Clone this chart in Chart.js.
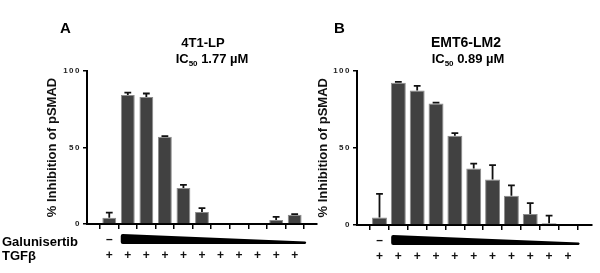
<!DOCTYPE html>
<html><head><meta charset="utf-8">
<script src="https://cdn.jsdelivr.net/npm/chart.js@4.4.0/dist/chart.umd.min.js"></script>
<style>
html,body{margin:0;padding:0;background:#fff;}
#wrap{position:relative;width:600px;height:273px;overflow:hidden;background:#fff;}
canvas{position:absolute;top:0;}
#ca{left:0;}
#cb{left:310px;}
</style></head><body>
<div id="wrap">
<canvas id="ca" width="320" height="273"></canvas>
<canvas id="cb" width="290" height="273"></canvas>
</div>
<script>
// ---- data ----
const categories = ['Vehicle','C1','C2','C3','C4','C5','C6','C7','C8','C9','C10'];
const galunisertibRow = ['–','','','','','','','','','',''];
const tgfbRow = ['+','+','+','+','+','+','+','+','+','+','+'];
const yTicks = [0, 50, 100];

const inhibition4T1 = [4.1, 84.3, 83.0, 57.0, 23.5, 7.8, 0, 0, 0, 2.6, 6.0];
const error4T1      = [3.3, 1.6, 2.3, 0.4, 2.1, 2.6, 0, 0, 0, 2.0, 0.5];

const inhibitionEMT6 = [4.8, 92.0, 87.0, 78.6, 57.7, 36.6, 29.5, 19.0, 7.2, 1.2, 0];
const errorEMT6      = [15.3, 0.7, 3.0, 0.6, 1.8, 3.1, 9.3, 6.7, 6.9, 4.9, 0];

const panelA = {letter:'A', title:'4T1-LP', ic50:'1.77'};
const panelB = {letter:'B', title:'EMT6-LM2', ic50:'0.89'};

const FONT = '"Liberation Sans", Arial, sans-serif';

const errorBars = {
  id:'errorBars',
  afterDatasetsDraw(chart){
    const ctx = chart.ctx, ys = chart.scales.y;
    chart.data.datasets.forEach((ds, di) => {
      const meta = chart.getDatasetMeta(di);
      meta.data.forEach((bar, i) => {
        const e = ds.errors[i]; if (!e) return;
        const v = ds.data[i].y;
        const yTop = ys.getPixelForValue(v + e);
        ctx.save();
        ctx.strokeStyle = '#111'; ctx.lineWidth = 1.8;
        ctx.beginPath();
        ctx.moveTo(bar.x, bar.y); ctx.lineTo(bar.x, yTop);
        ctx.moveTo(bar.x - 3.4, yTop); ctx.lineTo(bar.x + 3.4, yTop);
        ctx.stroke();
        ctx.restore();
      });
    });
  }
};

const spacedTicks = {
  id:'spacedTicks',
  afterLayout(chart){
    const s = chart.scales.y;
    if (s._spaced) return;
    const orig = s.drawLabels;
    s.drawLabels = function(ca){ const c = this.ctx; c.save(); c.letterSpacing = '1.5px'; orig.call(this, ca); c.restore(); };
    s._spaced = true;
  }
};

function drawIC(ctx, cx, baseline, val){
  const big = 'bold 13px ' + FONT, small = 'bold 8px ' + FONT;
  ctx.font = big; const w1 = ctx.measureText('IC').width;
  ctx.font = small; const w2 = ctx.measureText('50').width;
  ctx.font = big; const w3 = ctx.measureText(' ' + val + ' µM').width;
  let x = cx - (w1 + w2 + w3) / 2;
  ctx.textAlign = 'left'; ctx.textBaseline = 'alphabetic';
  ctx.font = big; ctx.fillText('IC', x, baseline); x += w1;
  ctx.font = small; ctx.fillText('50', x, baseline + 3); x += w2;
  ctx.font = big; ctx.fillText(' ' + val + ' µM', x, baseline);
}

function makeDecor(panel, pos){
  return {
    id:'decor',
    afterDraw(chart){
      const ctx = chart.ctx, xs = chart.scales.x, b = chart.chartArea.bottom;
      ctx.save();
      ctx.fillStyle = '#000';
      ctx.textBaseline = 'alphabetic';
      ctx.textAlign = 'left';
      ctx.font = 'bold 15px ' + FONT;
      ctx.fillText(panel.letter, pos.letterX, 33);
      ctx.textAlign = 'center';
      ctx.font = 'bold ' + pos.titleSize + 'px ' + FONT;
      ctx.fillText(panel.title, pos.titleX, 47);
      drawIC(ctx, pos.icX, 63, panel.ic50);
      // wedge
      const x0 = xs.getPixelForValue(0.62), x1 = xs.getPixelForValue(10.62);
      ctx.beginPath();
      ctx.moveTo(x0 + 2, b + 10);
      ctx.lineTo(x1 - 1, b + 17.5);
      ctx.quadraticCurveTo(x1 + 1, b + 18.7, x1 - 1, b + 20);
      ctx.lineTo(x0 + 2, b + 20);
      ctx.quadraticCurveTo(x0, b + 20, x0, b + 18);
      ctx.lineTo(x0, b + 12);
      ctx.quadraticCurveTo(x0, b + 10, x0 + 2, b + 10);
      ctx.closePath();
      ctx.fill();
      if (pos.rowLabels){
        ctx.textAlign = 'left';
        ctx.font = 'bold 13px ' + FONT;
        ctx.fillText('Galunisertib', 2, 245.5);
        ctx.fillText('TGFβ', 2, 259.5);
      }
      ctx.restore();
    }
  };
}

function makeChart(id, values, errors, panel, cfg){
  return new Chart(document.getElementById(id), {
    type:'bar',
    data:{
      datasets:[{
        data: values.map((v, i) => ({x:i, y:v})),
        errors: errors,
        backgroundColor:'#414141',
        borderColor:'#8c8c8c',
        borderWidth:1,
        barPercentage:0.9,
        categoryPercentage: cfg.catPct
      }]
    },
    options:{
      responsive:false,
      animation:false,
      devicePixelRatio:1,
      layout:{padding:cfg.padding},
      plugins:{legend:{display:false}, tooltip:{enabled:false}, title:{display:false}},
      scales:{
        x:{
          type:'linear', min:cfg.xmin, max:cfg.xmax,
          afterBuildTicks: s => { s.ticks = categories.map((c, i) => ({value:i})); },
          ticks:{
            callback: (v, i) => [galunisertibRow[i], tgfbRow[i]],
            font:{family:FONT, size:12, weight:'bold', lineHeight:1.39},
            color:'#111', padding:2, maxRotation:0, autoSkip:false
          },
          grid:{drawOnChartArea:false, color:'#000', lineWidth:1.5, tickLength:5},
          border:{display:true, color:'#000', width:2},
          afterFit: s => { s.height = cfg.xh; }
        },
        y:{
          min:0, max:100,
          afterBuildTicks: s => { s.ticks = yTicks.map(v => ({value:v})); },
          ticks:{font:{family:FONT, size:8, weight:'bold'}, color:'#222', padding:2},
          grid:{drawOnChartArea:false, color:'#000', lineWidth:1.5, tickLength:4},
          border:{display:true, color:'#000', width:2},
          title:{display:true, text:'% Inhibition of pSMAD', color:'#111',
                 font:{family:FONT, size:13, weight:'bold'}, padding:{top:4, bottom:0}},
          afterFit: s => { s.width = cfg.yw; }
        }
      }
    },
    plugins:[errorBars, spacedTicks, makeDecor(panel, cfg.pos)]
  });
}

makeChart('ca', inhibition4T1, error4T1, panelA, {
  catPct:0.83, padding:{left:41, right:3, top:71, bottom:0}, xh:49, yw:46,
  xmin:-0.637, xmax:10.64,
  pos:{letterX:60, titleX:203, titleSize:13, icX:212, rowLabels:true}
});
makeChart('cb', inhibitionEMT6, errorEMT6, panelB, {
  catPct:0.88, padding:{left:2, right:8, top:70.5, bottom:0}, xh:48, yw:45,
  xmin:-0.627, xmax:10.71,
  pos:{letterX:24, titleX:156, titleSize:14, icX:158, rowLabels:false}
});
</script>
</body></html>
